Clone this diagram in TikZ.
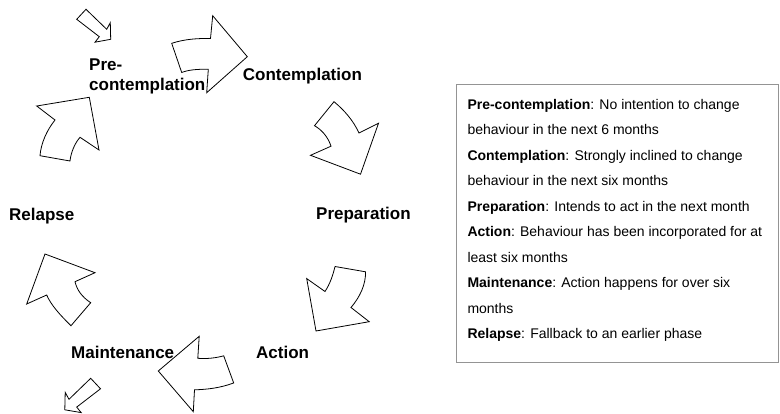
\documentclass[tikz,border=0pt]{standalone}
\usepackage{fontspec}
\setmainfont{Liberation Sans}
\begin{document}
\begin{tikzpicture}[x=1pt,y=-1pt,
  stagearrow/.style={draw=black,line width=0.8pt,line join=miter},
  stagelabel/.style={anchor=base west,inner sep=0pt,font=\fontsize{17}{20}\selectfont\bfseries},
  legendline/.style={anchor=base west,inner sep=0pt,font=\fontsize{14}{17}\selectfont},
  legendbox/.style={draw=black!42,line width=1pt}]
\useasboundingbox (0,0) rectangle (780,414);
\clip (0,0) rectangle (780,414);

% labels
\node[stagelabel] (pre1) at (89,71) {Pre-};
\node[stagelabel] (pre2) at (89,90.7) {contemplation};
\node[stagelabel] (cont) at (242.7,81) {Contemplation};
\node[stagelabel] (prep) at (316,220) {Preparation};
\node[stagelabel] (act) at (256,359) {Action};
\node[stagelabel] (maint) at (71,359) {Maintenance};
\node[stagelabel] (rel) at (9,221) {Relapse};

% small entry arrow (top)
\draw[stagearrow] (76.7,19.3) -- (86,9.3) -- (106.7,29.3) -- (110.3,22.7)
  -- (110.7,39.3) -- (95,42.2) -- (99.3,36.7) -- cycle;

% arrow towards Contemplation
\draw[stagearrow] (171.7,43.3) .. controls (185,39) and (198,38.3) .. (210.5,38.5)
  -- (212.7,15.7) -- (247.3,56.7) -- (206.7,92.7) -- (208.3,69.3)
  .. controls (197,69) and (188,70) .. (181.7,72.5) -- cycle;

% arrow towards Preparation
\draw[stagearrow] (334,101.7) .. controls (344,110) and (353,120) .. (359,133)
  -- (378.5,123.3) -- (360.5,174.2) -- (310.5,155.3) -- (331,146.2)
  .. controls (328,137) and (322,130) .. (314.5,125.7) -- cycle;

% arrow towards Action
\draw[stagearrow] (335,266.5) -- (365.5,271.8)
  .. controls (366,284) and (360,297) .. (351,307.5)
  -- (369.2,321.7) -- (316,331) -- (306.7,278.6) -- (325,291.5)
  .. controls (330,284) and (333,275) .. (335,266.5);

% arrow towards Maintenance
\draw[stagearrow] (158.3,371) -- (199.2,336.3) -- (197.8,358.3)
  .. controls (207,359) and (216,358) .. (223.7,355.8)
  -- (233.7,383) .. controls (220,388) and (207,389.5) .. (194.5,389.8)
  -- (193.3,411.7) -- cycle;

% arrow towards Relapse
\draw[stagearrow] (45,254) -- (95,272.7) -- (75,281.7)
  .. controls (77,290) and (82,297) .. (90.7,302.7)
  -- (71,325.7) .. controls (60,315) and (51,305) .. (46.7,295)
  -- (26.7,304) -- cycle;

% arrow towards Pre-contemplation
\draw[stagearrow] (36.7,106) -- (89.3,97.3) -- (99,150) -- (80,137.3)
  .. controls (75,143) and (71,152) .. (70,161)
  -- (40,155.7) .. controls (41,143) and (47,130) .. (55,120) -- cycle;

% small exit arrow (bottom)
\draw[stagearrow] (100.5,388.8) -- (90.7,378.3) -- (69,399.3) -- (65.2,392.4)
  -- (64.8,409.8) -- (81.2,412.6) -- (76.7,407.1) -- cycle;

% legend
\node[legendbox,minimum width=322.3pt,minimum height=277.7pt,anchor=north west,inner sep=0pt] (box) at (456,84) {};
\node[legendline] (l1) at (467.3,109.3) {\textbf{Pre-contemplation}: No intention to change};
\node[legendline] (l2) at (467.3,134.8) {behaviour in the next 6 months};
\node[legendline] (l3) at (467.3,160.3) {\textbf{Contemplation}: Strongly inclined to change};
\node[legendline] (l4) at (467.3,185.8) {behaviour in the next six months};
\node[legendline] (l5) at (467.3,211.3) {\textbf{Preparation}: Intends to act in the next month};
\node[legendline] (l6) at (467.3,236.8) {\textbf{Action}: Behaviour has been incorporated for at};
\node[legendline] (l7) at (467.3,262.3) {least six months};
\node[legendline] (l8) at (467.3,287.8) {\textbf{Maintenance}: Action happens for over six};
\node[legendline] (l9) at (467.3,313.3) {months};
\node[legendline] (l10) at (467.3,338.8) {\textbf{Relapse}: Fallback to an earlier phase};
\end{tikzpicture}
\end{document}
